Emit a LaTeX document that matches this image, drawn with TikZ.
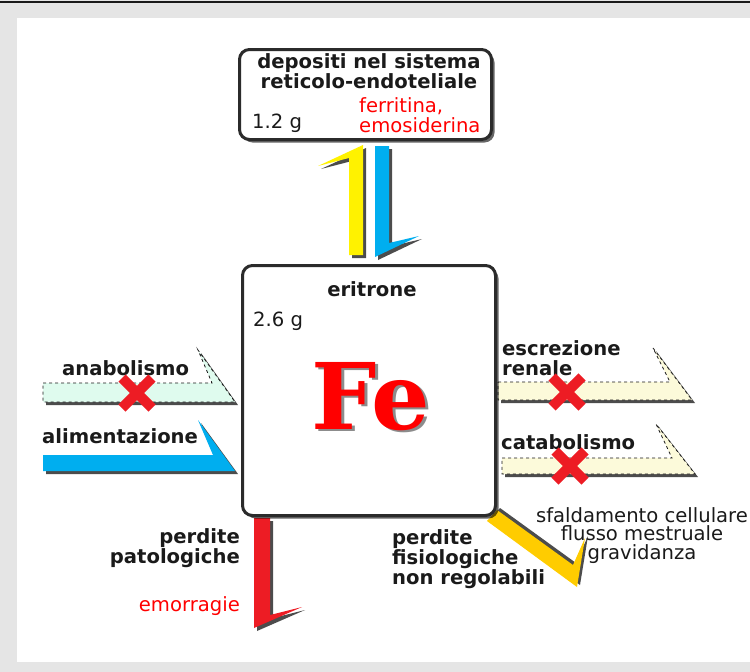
\documentclass[tikz,border=0pt]{standalone}
\usepackage{fontspec}
\setmainfont{DejaVu Sans}
\newfontfamily\feserif{DejaVu Serif}
\usepackage{tikz}
\usetikzlibrary{shadows}
\definecolor{ink}{HTML}{1A1A1A}
\definecolor{boxline}{HTML}{2B2B2B}
\definecolor{lossred}{HTML}{ED1C24}
\definecolor{inflowblue}{HTML}{00AEEF}
\definecolor{storeyellow}{HTML}{FFF200}
\definecolor{lossgold}{HTML}{FFCC00}
\definecolor{mint}{HTML}{DFFBEE}
\definecolor{cream}{HTML}{FCFADA}
\definecolor{framegray}{HTML}{E5E5E5}

\begin{document}
\begin{tikzpicture}[
    x=1pt, y=-1pt,
    pool/.style={rectangle, rounded corners=10pt, draw=boxline, line width=3pt, fill=white, drop shadow={shadow xshift=3pt, shadow yshift=-3pt, fill=black, opacity=0.6}},
    lbl/.style={font=\fontsize{19.6}{19.8}\selectfont\bfseries, text=ink, inner sep=0pt},
    txt/.style={font=\fontsize{19.6}{19.8}\selectfont, text=ink, inner sep=0pt},
    note/.style={txt, text=red},
    flow/.style={drop shadow={shadow xshift=3pt, shadow yshift=-3pt, fill=black, opacity=0.7}},
    blocked/.style={flow, draw=ink, dashed, line width=0.8pt},
    nogo/.style={draw=lossred, line width=10pt}
]
    \useasboundingbox (0,0) rectangle (750,672);
    % frame
    \fill[framegray] (0,0) rectangle (750,672);
    \fill[ink] (0,1) rectangle (750,3);
    \fill[white] (17,18) rectangle (750,662);

    % flows
    \fill[storeyellow, flow] (363,145) -- (363,255) -- (349,255) -- (349,158) -- (318,166) -- cycle;
    \fill[inflowblue, flow] (375,146) -- (389,146) -- (389,243) -- (419,236) -- (375,257) -- cycle;
    \filldraw[fill=mint, blocked] (43,383) -- (212,383) -- (198,350) -- (235,402) -- (43,402) -- cycle;
    \fill[inflowblue, flow] (43,455) -- (213,455) -- (198,420) -- (235,471) -- (43,471) -- cycle;
    \filldraw[fill=cream, blocked] (498,382) -- (670,382) -- (653,348) -- (692,400) -- (498,400) -- cycle;
    \filldraw[fill=cream, blocked] (502,458) -- (672,458) -- (656,424) -- (695,474) -- (502,474) -- cycle;
    \fill[lossred, flow] (254,518) -- (270,518) -- (270,615) -- (302,607) -- (254,628) -- cycle;
    \fill[lossgold, drop shadow={shadow xshift=3pt, shadow yshift=2pt, fill=black, opacity=0.7}] (497,510) -- (573,565) -- (585,538) -- (577,587) -- (487,521) -- cycle;

    % pools
    \node[pool, minimum width=252pt, minimum height=90pt] (deposit) at (365.5,94.5) {};
    \node[pool, minimum width=253pt, minimum height=250pt] (erythron) at (369,390.5) {};

    \node[lbl, align=center, anchor=north] (deptitle) at (369,53.5) {depositi nel sistema\\reticolo-endoteliale};
    \node[txt, anchor=base west] (depmass) at (252,128) {1.2 g};
    \node[note, align=left, anchor=north west] (depform) at (359,97.5) {ferritina,\\emosiderina};

    \node[lbl, anchor=base] (erytitle) at (372,296) {eritrone};
    \node[txt, anchor=base west] (erymass) at (253,326) {2.6 g};
    \node[font=\fontsize{92}{92}\selectfont\feserif\bfseries, inner sep=0pt, anchor=base] (fe) at (371,429)
        {\makebox[0pt][l]{\hspace{2.5pt}\raisebox{-2.5pt}{\textcolor{black!45}{Fe}}}\textcolor{red}{Fe}};

    % inputs
    \node[lbl, anchor=base west] (anab) at (62,375) {anabolismo};
    \node[lbl, anchor=base west] (food) at (42,443) {alimentazione};
    % outputs
    \node[lbl, align=left, anchor=north west] (renal) at (502,340.5) {escrezione\\renale};
    \node[lbl, anchor=base west] (catab) at (501,449) {catabolismo};
    \node[lbl, align=right, anchor=north east] (patho) at (240,528.5) {perdite\\patologiche};
    \node[note, anchor=base east] (bleed) at (240,611) {emorragie};
    \node[lbl, align=left, anchor=north west] (physio) at (392,529.5) {perdite\\fisiologiche\\non regolabili};
    \node[txt, align=center, anchor=north, font=\fontsize{19.6}{18.5}\selectfont] (causes) at (642,507) {sfaldamento cellulare\\flusso mestruale\\gravidanza};

    % blocked routes
    \foreach \cx/\cy in {137/393, 567/392, 570/466}
        \draw[nogo] (\cx-15,\cy-15) -- (\cx+15,\cy+15) (\cx-15,\cy+15) -- (\cx+15,\cy-15);
\end{tikzpicture}
\end{document}
